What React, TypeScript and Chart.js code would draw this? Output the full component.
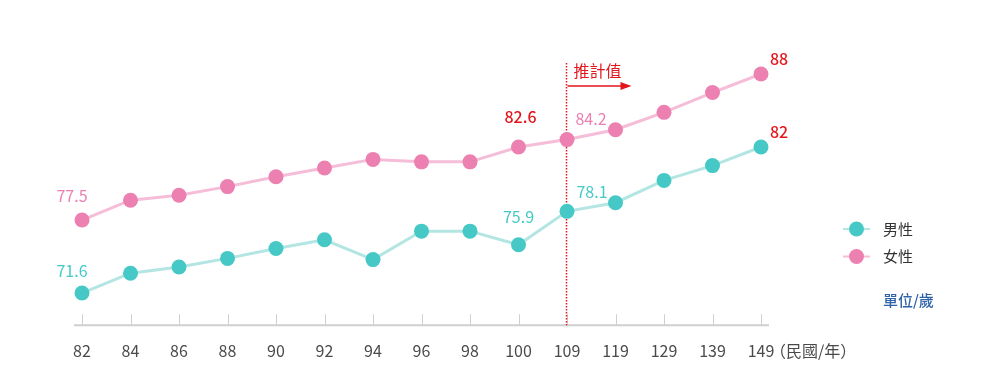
import React, { useEffect, useRef } from 'react';
import { Chart, registerables } from 'chart.js';

Chart.register(...registerables);

// ---- data ----
const years = ['82', '84', '86', '88', '90', '92', '94', '96', '98', '100', '109', '119', '129', '139', '149'];
const maleValues = [71.6, 73.2, 73.7, 74.4, 75.2, 75.9, 74.3, 76.6, 76.6, 75.5, 78.2, 78.9, 80.7, 81.9, 83.4];
const femaleValues = [77.5, 79.1, 79.5, 80.2, 81.0, 81.7, 82.4, 82.2, 82.2, 83.4, 84.0, 84.8, 86.2, 87.8, 89.3];
const maleLabels = ['71.6', '', '', '', '', '', '', '', '', '75.9', '78.1', '', '', '', '82'];
const femaleLabels = ['77.5', '', '', '', '', '', '', '', '', '82.6', '84.2', '', '', '', '88'];
const seriesNames = ['男性', '女性'];
const projectionStartIndex = 10;
const projectionText = '推計值';
const unitText = '單位/歲';
const axisUnitText = '（民國/年）';

const FONT = "'Noto Sans CJK TC', 'Noto Sans', sans-serif";
const TEAL = '#46C9C6';
const TEAL_LINE = '#B3E5E3';
const PINK = '#EC80B1';
const PINK_LINE = '#F5BDD7';
const RED = '#E3151D';

// label placement per series: [index] -> offset & highlight
const labelStyle: Record<string, { dx: number; dy: number; red: boolean }> = {
  'f0': { dx: -10, dy: -24, red: false },
  'f9': { dx: 2, dy: -30, red: true },
  'f10': { dx: 24, dy: -21, red: false },
  'f14': { dx: 18, dy: -15, red: true },
  'm0': { dx: -10, dy: -22, red: false },
  'm9': { dx: 0, dy: -28, red: false },
  'm10': { dx: 25, dy: -19, red: false },
  'm14': { dx: 18, dy: -15, red: true },
};

const overlayPlugin = {
  id: 'overlay',
  beforeDatasetsDraw(chart: any) {
    const { ctx, chartArea: a } = chart;
    const xs = chart.scales.x;
    ctx.save();
    // axis line
    ctx.strokeStyle = '#cfcfcf';
    ctx.lineWidth = 2;
    ctx.beginPath();
    ctx.moveTo(a.left - 8, a.bottom);
    ctx.lineTo(a.right + 8, a.bottom);
    ctx.stroke();
    // tick marks above axis
    ctx.lineWidth = 1;
    ctx.strokeStyle = '#cfcfcf';
    for (let i = 0; i < years.length; i++) {
      const px = Math.round(xs.getPixelForValue(i)) + 0.5;
      ctx.beginPath();
      ctx.moveTo(px, a.bottom - 11);
      ctx.lineTo(px, a.bottom);
      ctx.stroke();
    }
    // projection dotted line
    const px = Math.round(xs.getPixelForValue(projectionStartIndex) - 1) + 0.5;
    ctx.strokeStyle = RED;
    ctx.lineWidth = 1.5;
    ctx.setLineDash([1.5, 1.5]);
    ctx.beginPath();
    ctx.moveTo(px, 63);
    ctx.lineTo(px, a.bottom);
    ctx.stroke();
    ctx.setLineDash([]);
    // arrow
    ctx.lineWidth = 1.5;
    ctx.beginPath();
    ctx.moveTo(px + 1, 86);
    ctx.lineTo(px + 56, 86);
    ctx.stroke();
    ctx.fillStyle = RED;
    ctx.beginPath();
    ctx.moveTo(px + 54, 82);
    ctx.lineTo(px + 65, 86);
    ctx.lineTo(px + 54, 90);
    ctx.closePath();
    ctx.fill();
    ctx.font = `16px ${FONT}`;
    ctx.textAlign = 'left';
    ctx.textBaseline = 'middle';
    ctx.fillText(projectionText, px + 7, 71);
    ctx.restore();
  },
  afterDatasetsDraw(chart: any) {
    const { ctx } = chart;
    ctx.save();
    ctx.textAlign = 'center';
    ctx.textBaseline = 'middle';
    const draw = (labels: string[], dsIndex: number, key: string, color: string) => {
      const meta = chart.getDatasetMeta(dsIndex);
      labels.forEach((t, i) => {
        if (!t) return;
        const st = labelStyle[key + i];
        const el = meta.data[i];
        ctx.fillStyle = st.red ? RED : color;
        ctx.font = `${st.red ? '500 ' : ''}16px ${FONT}`;
        ctx.fillText(t, el.x + st.dx, el.y + st.dy);
      });
    };
    draw(maleLabels, 0, 'm', TEAL);
    draw(femaleLabels, 1, 'f', PINK);
    ctx.restore();
  },
  afterDraw(chart: any) {
    const { ctx } = chart;
    ctx.save();
    // axis unit
    ctx.font = `16px ${FONT}`;
    ctx.fillStyle = '#4a4a4a';
    ctx.textAlign = 'left';
    ctx.textBaseline = 'middle';
    ctx.fillText(axisUnitText, 770, 350.5);
    // legend
    const items = [
      { name: seriesNames[0], c: TEAL, l: TEAL_LINE, y: 229 },
      { name: seriesNames[1], c: PINK, l: PINK_LINE, y: 256.5 },
    ];
    items.forEach((it) => {
      ctx.strokeStyle = it.l;
      ctx.lineWidth = 2;
      ctx.beginPath();
      ctx.moveTo(843, it.y);
      ctx.lineTo(870, it.y);
      ctx.stroke();
      ctx.fillStyle = it.c;
      ctx.beginPath();
      ctx.arc(856.5, it.y, 7.5, 0, Math.PI * 2);
      ctx.fill();
      ctx.fillStyle = '#333333';
      ctx.font = `15px ${FONT}`;
      ctx.fillText(it.name, 883, it.y);
    });
    ctx.fillStyle = '#2F63A8';
    ctx.font = `500 15px ${FONT}`;
    ctx.fillText(unitText, 883, 300);
    ctx.restore();
  },
};

export default function App() {
  const ref = useRef<HTMLCanvasElement | null>(null);
  useEffect(() => {
    if (!ref.current) return;
    const chart = new Chart(ref.current, {
      type: 'line',
      data: {
        labels: years,
        datasets: [
          {
            label: seriesNames[0],
            data: maleValues,
            borderColor: TEAL_LINE,
            borderWidth: 3,
            pointBackgroundColor: TEAL,
            pointBorderWidth: 0,
            pointRadius: 7.5,
            pointHoverRadius: 7.5,
            tension: 0,
            clip: false as any,
          },
          {
            label: seriesNames[1],
            data: femaleValues,
            borderColor: PINK_LINE,
            borderWidth: 3,
            pointBackgroundColor: PINK,
            pointBorderWidth: 0,
            pointRadius: 7.5,
            pointHoverRadius: 7.5,
            tension: 0,
            clip: false as any,
          },
        ],
      },
      options: {
        responsive: false,
        animation: false,
        layout: { padding: { left: 82, right: 246, top: 40.6, bottom: 0 } },
        plugins: { legend: { display: false }, tooltip: { enabled: false } },
        scales: {
          x: {
            type: 'category',
            offset: false,
            grid: { display: false, drawTicks: false },
            border: { display: false },
            ticks: {
              color: '#4a4a4a',
              font: { family: FONT, size: 16 },
              padding: 16,
              maxRotation: 0,
              autoSkip: false,
            },
            afterFit: (s: any) => {
              s.height = 60.8;
            },
          },
          y: {
            display: false,
            min: 69,
            max: 92,
          },
        },
      },
      plugins: [overlayPlugin],
    });
    return () => chart.destroy();
  }, []);
  return (
    <canvas
      ref={ref}
      width={1007}
      height={386}
      style={{ position: 'absolute', left: 0, top: 0, display: 'block' }}
    />
  );
}
